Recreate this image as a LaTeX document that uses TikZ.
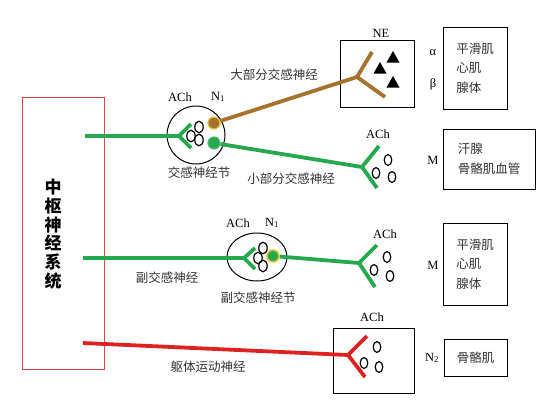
\documentclass[tikz,border=0pt]{standalone}
\usepackage{fontspec}
\setmainfont{Liberation Serif}
\newfontfamily\cjk{Noto Sans CJK SC}
\usepackage{xcolor}
\usetikzlibrary{calc}
\usetikzlibrary{shapes.geometric}
\definecolor{symgreen}{RGB}{38,168,78}
\definecolor{nebrown}{RGB}{165,115,45}
\definecolor{motorred}{RGB}{222,34,34}
\definecolor{ringyellow}{RGB}{225,195,60}
\definecolor{cnsred}{RGB}{225,70,70}

\begin{document}
\begin{tikzpicture}[x=1pt, y=-1pt,
	nerve/.style={line width=3.8pt, line join=round, line cap=butt},
	vesicle/.style={draw, line width=1.2pt},
	tag/.style={inner sep=0pt, font=\fontsize{12.5}{13}\selectfont},
	cn/.style={inner sep=0pt, text=black!80, font=\cjk\fontsize{12.5}{14}\selectfont},
	organ/.style={draw, line width=1pt, inner sep=0pt, align=left, text=black!80, font=\cjk\fontsize{12.5}{19.5}\selectfont},
	cell/.style={draw, line width=1pt, inner sep=0pt}]
	\useasboundingbox (0,0) rectangle (541,402);
	% central nervous system
	\node[draw=cnsred, line width=0.9pt, minimum width=82pt, minimum height=272pt] (CNS) at (63,233) {};
	\node[inner sep=0pt, align=center, font=\cjk\bfseries\fontsize{17}{18.7}\selectfont] (CNSLabel) at (53,234) {中\\枢\\神\\经\\系\\统};
	\coordinate (symStart) at (85,136);
	\coordinate (paraStart) at (83,258);
	\coordinate (motorStart) at (83,343);
	% ganglia
	\node[cell, circle, minimum size=58pt] (symGang) at (196,135) {};
	\node[cell, ellipse, minimum width=60pt, minimum height=48pt] (paraGang) at (257,257) {};
	\coordinate (symFork) at (179,136);
	\coordinate (paraFork) at (244,258);
	\node[circle, fill=nebrown, draw=ringyellow, line width=1.2pt, minimum size=12pt, inner sep=0pt] (NEDot) at (214,123) {};
	\node[circle, fill=symgreen, draw=symgreen!80!white, line width=1.2pt, minimum size=12pt, inner sep=0pt] (ChDot) at (214,143) {};
	\node[circle, fill=symgreen, draw=ringyellow, line width=1.6pt, minimum size=12pt, inner sep=0pt] (paraDot) at (273,256) {};
	% effector boxes
	\node[cell, minimum width=74pt, minimum height=67pt] (NEBox) at (377,73.5) {};
	\node[cell, minimum width=81pt, minimum height=65pt] (motorBox) at (373.5,360.5) {};
	\coordinate (NEFork) at (357,77);
	\coordinate (sweatFork) at (362,167);
	\coordinate (paraEnd) at (359,263);
	\coordinate (motorFork) at (348,355);
	\node[organ, minimum width=64pt, minimum height=82pt] (smoothA) at (475,68) {平滑肌\\心肌\\腺体};
	\node[organ, minimum width=92pt, minimum height=60pt] (sweat) at (489,159) {汗腺\\骨骼肌血管};
	\node[organ, minimum width=64pt, minimum height=82pt] (smoothB) at (475,264) {平滑肌\\心肌\\腺体};
	\node[organ, minimum width=63pt, minimum height=37pt, align=center] (skeletal) at (475.5,357.5) {骨骼肌};
	% labels
	\node[tag] (NELabel) at (381,33) {NE};
	\node[tag] (alphaLabel) at (433,53) {α};
	\node[tag] (betaLabel) at (433,84) {β};
	\node[tag] (AChA) at (180,97) {ACh};
	\node[tag] (NA) at (218,97) {N\textsubscript{1}};
	\node[tag] (AChB) at (378,134) {ACh};
	\node[tag] (MA) at (433,160) {M};
	\node[tag] (AChC) at (238,223) {ACh};
	\node[tag] (NB) at (272,223) {N\textsubscript{1}};
	\node[tag] (AChD) at (385,234) {ACh};
	\node[tag] (MB) at (433,265) {M};
	\node[tag] (AChE) at (372,317) {ACh};
	\node[tag] (NC) at (432,358) {N\textsubscript{2}};
	\node[cn] (majorLabel) at (274,75) {大部分交感神经};
	\node[cn] (symGangLabel) at (199,173) {交感神经节};
	\node[cn] (minorLabel) at (291,179) {小部分交感神经};
	\node[cn] (paraLabel) at (167,278) {副交感神经};
	\node[cn] (paraGangLabel) at (258,298) {副交感神经节};
	\node[cn] (motorLabel) at (208,367) {躯体运动神经};
	% nerves
	\draw[nerve, symgreen] (symStart) -- (symFork);
	\draw[nerve, symgreen] ($(symFork)+(12,-12)$) -- (symFork) -- ($(symFork)+(12,12)$);
	\draw[nerve, nebrown] (NEDot) -- (NEFork);
	\draw[nerve, nebrown] ($(NEFork)+(15,-25)$) -- (NEFork) -- ($(NEFork)+(28,20)$);
	\draw[nerve, symgreen] (ChDot) -- (sweatFork);
	\draw[nerve, symgreen] ($(sweatFork)+(17,-21)$) -- (sweatFork) -- ($(sweatFork)+(15,21)$);
	\draw[nerve, symgreen] (paraStart) -- (paraFork);
	\draw[nerve, symgreen] ($(paraFork)+(11,-10)$) -- (paraFork) -- ($(paraFork)+(11,11)$);
	\draw[nerve, symgreen] (paraDot) -- (paraEnd);
	\draw[nerve, symgreen] ($(paraEnd)+(18,-18)$) -- (paraEnd) -- ($(paraEnd)+(16,24)$);
	\draw[nerve, motorred] (motorStart) -- (motorFork);
	\draw[nerve, motorred] ($(motorFork)+(19,-19)$) -- (motorFork) -- ($(motorFork)+(17,22)$);
	% vesicles
	\foreach \vx/\vy in {191/136, 199/127, 199/140, 263/248, 258/258, 263/266}
		\draw[vesicle] (\vx,\vy) ellipse [x radius=4.2pt, y radius=5.8pt];
	\foreach \vx/\vy in {388/160, 376/173, 392/177, 387/257, 374/270, 390/276, 377/347, 364/363, 379/367}
		\draw[vesicle] (\vx,\vy) ellipse [x radius=3.8pt, y radius=5.4pt];
	% noradrenaline
	\foreach \tx/\ty in {393/57, 380/68, 393/82}
		\fill (\tx-6.5,\ty+5.5) -- (\tx,\ty-6) -- (\tx+6.5,\ty+5.5) -- cycle;
\end{tikzpicture}
\end{document}
